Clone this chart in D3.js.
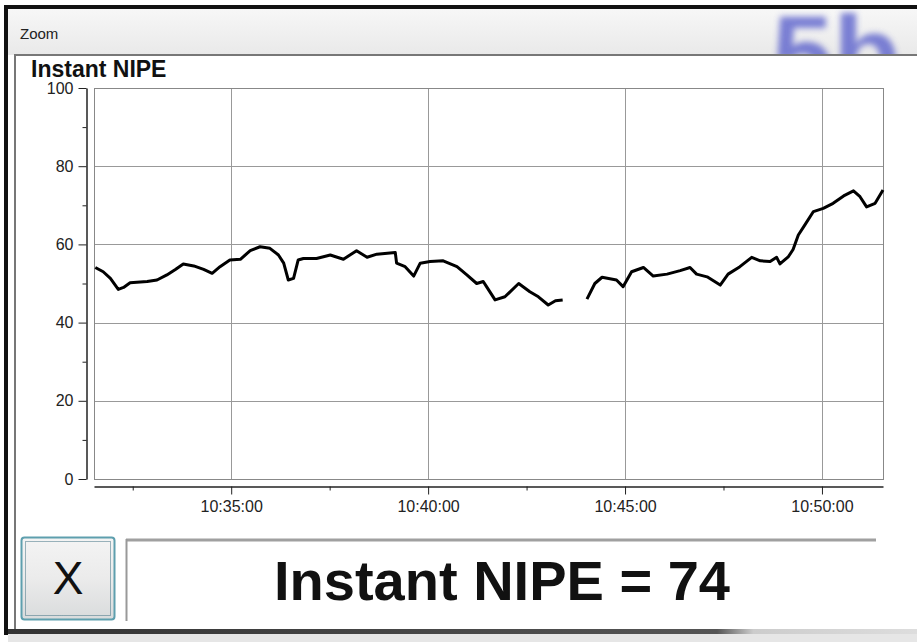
<!DOCTYPE html>
<html>
<head>
<meta charset="utf-8">
<script src="https://cdnjs.cloudflare.com/ajax/libs/d3/7.8.5/d3.min.js"></script>
<style>
  body { margin: 0; background: #fff; }
  svg { display: block; font-family: "Liberation Sans", Arial, sans-serif; }
</style>
</head>
<body>
<svg class="zoom-chart" width="917" height="642"></svg>
<script>
// readings (null = gap in the signal)
var times = ["10:31:33", "10:31:45", "10:31:56", "10:32:08", "10:32:16", "10:32:26", "10:32:52", "10:33:07",
    "10:33:22", "10:33:35", "10:33:47", "10:34:03", "10:34:18", "10:34:31", "10:34:43", "10:34:58",
    "10:35:14", "10:35:29", "10:35:44", "10:35:59", "10:36:12", "10:36:20", "10:36:27", "10:36:35",
    "10:36:42", "10:36:50", "10:37:10", "10:37:31", "10:37:51", "10:38:11", "10:38:27", "10:38:42",
    "10:39:10", "10:39:12", "10:39:25", "10:39:38", "10:39:48", "10:40:03", "10:40:23", "10:40:44",
    "10:40:59", "10:41:14", "10:41:24", "10:41:29", "10:41:42", "10:41:57", "10:42:18", "10:42:35",
    "10:42:48", "10:43:03", "10:43:14", "10:43:25", "10:43:44", "10:44:02", "10:44:14", "10:44:25",
    "10:44:47", "10:44:57", "10:45:10", "10:45:28", "10:45:43", "10:46:04", "10:46:24", "10:46:39",
    "10:46:49", "10:47:05", "10:47:25", "10:47:37", "10:47:55", "10:48:13", "10:48:26", "10:48:41",
    "10:48:51", "10:48:56", "10:49:09", "10:49:16", "10:49:24", "10:49:34", "10:49:47", "10:50:02",
    "10:50:17", "10:50:33", "10:50:48", "10:50:58", "10:51:08", "10:51:21", "10:51:33"];
var values = [54.1, 53.0, 51.3, 48.5, 49.0, 50.2, 50.5, 50.9,
    52.2, 53.6, 55.0, 54.5, 53.6, 52.6, 54.3, 56.0,
    56.2, 58.4, 59.4, 59.0, 57.3, 55.2, 50.9, 51.3,
    56.0, 56.4, 56.4, 57.3, 56.2, 58.4, 56.7, 57.5,
    57.9, 55.2, 54.3, 51.9, 55.2, 55.6, 55.8, 54.3,
    52.2, 50.0, 50.5, 49.2, 45.8, 46.6, 50.0, 47.9,
    46.6, 44.5, 45.6, 45.8, null, 46.0, 50.0, 51.6,
    50.9, 49.2, 53.0, 54.1, 51.9, 52.4, 53.3, 54.1,
    52.4, 51.7, 49.6, 52.4, 54.3, 56.7, 55.8, 55.6,
    56.7, 55.0, 56.9, 58.7, 62.4, 65.0, 68.4, 69.2,
    70.5, 72.4, 73.7, 72.2, 69.6, 70.5, 73.9];

var yTicks = [0, 20, 40, 60, 80, 100];
var yMinorTicks = [10, 30, 50, 70, 90];
var xTicks = ["10:35:00", "10:40:00", "10:45:00", "10:50:00"];
var xMinorTicks = ["10:32:30", "10:37:30", "10:42:30", "10:47:30"];
var timeWindow = ["10:31:31", "10:51:33"];
var currentValue = 74;

var svg = d3.select(".zoom-chart");
var parseTime = d3.timeParse("%H:%M:%S");

var data = times.map(function(t, i) { return { t: parseTime(t), v: values[i] }; });

var defs = svg.append("defs");

var barGrad = defs.append("linearGradient").attr("id", "bar-grad")
    .attr("x1", 0).attr("y1", 0).attr("x2", 0).attr("y2", 1);
barGrad.append("stop").attr("offset", "0%").attr("stop-color", "#f7f7f7");
barGrad.append("stop").attr("offset", "100%").attr("stop-color", "#e9e9e9");

var btnGrad = defs.append("linearGradient").attr("id", "btn-grad")
    .attr("x1", 0).attr("y1", 0).attr("x2", 0).attr("y2", 1);
btnGrad.append("stop").attr("offset", "0%").attr("stop-color", "#f4f4f4");
btnGrad.append("stop").attr("offset", "50%").attr("stop-color", "#ebebeb");
btnGrad.append("stop").attr("offset", "100%").attr("stop-color", "#d9dbdc");

var shadowGrad = defs.append("linearGradient").attr("id", "shadow-grad")
    .attr("x1", 0).attr("y1", 0).attr("x2", 1).attr("y2", 0);
shadowGrad.append("stop").attr("offset", "0%").attr("stop-color", "#333");
shadowGrad.append("stop").attr("offset", "78%").attr("stop-color", "#555");
shadowGrad.append("stop").attr("offset", "82%").attr("stop-color", "#ccc");
shadowGrad.append("stop").attr("offset", "100%").attr("stop-color", "#ddd");

defs.append("filter").attr("id", "blur")
    .append("feGaussianBlur").attr("stdDeviation", 3);

defs.append("clipPath").attr("id", "bar-clip")
    .append("rect").attr("x", 8).attr("y", 9).attr("width", 909).attr("height", 45);

// window frame
svg.append("rect").attr("x", 0).attr("y", 0).attr("width", 917).attr("height", 642).attr("fill", "#fff");
svg.append("rect").attr("x", 8).attr("y", 9).attr("width", 909).attr("height", 46).attr("fill", "url(#bar-grad)");

// blurred logo behind the title bar
svg.append("g").attr("clip-path", "url(#bar-clip)")
    .append("text")
    .attr("x", 772).attr("y", 92)
    .attr("font-size", 110).attr("font-weight", "bold")
    .attr("fill", "#5c62cc").attr("opacity", 0.8)
    .attr("filter", "url(#blur)")
    .text("5b");

svg.append("rect").attr("x", 4).attr("y", 5).attr("width", 913).attr("height", 4).attr("fill", "#111");
svg.append("rect").attr("x", 4).attr("y", 5).attr("width", 4).attr("height", 630).attr("fill", "#111");

svg.append("text")
    .attr("x", 20).attr("y", 39)
    .attr("font-size", 15).attr("fill", "#222")
    .text("Zoom");

// chart panel
svg.append("line").attr("x1", 14).attr("x2", 917).attr("y1", 55).attr("y2", 55)
    .attr("stroke", "#777").attr("stroke-width", 2);
svg.append("line").attr("x1", 15).attr("x2", 15).attr("y1", 55).attr("y2", 630)
    .attr("stroke", "#777").attr("stroke-width", 2);
svg.append("rect").attr("x", 8).attr("y", 629).attr("width", 909).attr("height", 5).attr("fill", "url(#shadow-grad)");
svg.append("rect").attr("x", 8).attr("y", 634).attr("width", 909).attr("height", 8).attr("fill", "#e6e6e6");

svg.append("text")
    .attr("x", 31).attr("y", 77)
    .attr("font-size", 23).attr("font-weight", "bold").attr("fill", "#111")
    .text("Instant NIPE");

var plotLeft = 94, plotRight = 883, plotTop = 88, plotBottom = 479;

var x = d3.scaleTime()
    .domain(timeWindow.map(parseTime))
    .range([plotLeft, plotRight]);

var y = d3.scaleLinear()
    .domain([0, 100])
    .range([plotBottom, plotTop]);

// grid
var grid = svg.append("g").attr("class", "grid").attr("stroke", "#999").attr("stroke-width", 1);
grid.selectAll(".hgrid")
    .data(yTicks.slice(1, -1))
    .enter().append("line")
    .attr("x1", plotLeft).attr("x2", plotRight)
    .attr("y1", function(d) { return Math.round(y(d)) + 0.5; })
    .attr("y2", function(d) { return Math.round(y(d)) + 0.5; });
grid.selectAll(".vgrid")
    .data(xTicks.map(parseTime))
    .enter().append("line")
    .attr("y1", plotTop).attr("y2", plotBottom)
    .attr("x1", function(d) { return Math.round(x(d)) + 0.5; })
    .attr("x2", function(d) { return Math.round(x(d)) + 0.5; });

svg.append("rect")
    .attr("x", plotLeft + 0.5).attr("y", plotTop + 0.5)
    .attr("width", plotRight - plotLeft).attr("height", plotBottom - plotTop)
    .attr("fill", "none").attr("stroke", "#888");

// axes
var yAxis = svg.append("g")
    .attr("transform", "translate(86.5,0)")
    .call(d3.axisLeft(y).tickValues(yTicks).tickSize(8).tickSizeOuter(0).tickPadding(5));
svg.append("g")
    .attr("transform", "translate(86.5,0)")
    .call(d3.axisLeft(y).tickValues(yMinorTicks).tickSize(4).tickSizeOuter(0).tickFormat(""))
    .select(".domain").remove();

var xAxis = svg.append("g")
    .attr("transform", "translate(0,486.5)")
    .call(d3.axisBottom(x).tickValues(xTicks.map(parseTime)).tickSize(8).tickSizeOuter(0)
        .tickPadding(6).tickFormat(d3.timeFormat("%H:%M:%S")));
svg.append("g")
    .attr("transform", "translate(0,486.5)")
    .call(d3.axisBottom(x).tickValues(xMinorTicks.map(parseTime)).tickSize(4).tickSizeOuter(0).tickFormat(""))
    .select(".domain").remove();

svg.selectAll(".tick line").attr("stroke", "#222");
svg.selectAll(".domain").attr("stroke", "#222").attr("stroke-width", 1.5);
yAxis.selectAll("text").attr("font-size", 16).attr("fill", "#222").attr("font-family", "Liberation Sans, Arial");
xAxis.selectAll("text").attr("font-size", 16).attr("fill", "#222").attr("font-family", "Liberation Sans, Arial");

// trace
var line = d3.line()
    .defined(function(d) { return d.v !== null; })
    .x(function(d) { return x(d.t); })
    .y(function(d) { return y(d.v); });

svg.append("path")
    .datum(data)
    .attr("d", line)
    .attr("fill", "none")
    .attr("stroke", "#000")
    .attr("stroke-width", 3)
    .attr("stroke-linejoin", "round");

// close button
svg.append("rect")
    .attr("x", 21.5).attr("y", 537.5).attr("width", 93).attr("height", 82).attr("rx", 3)
    .attr("fill", "url(#btn-grad)").attr("stroke", "#5e9fae").attr("stroke-width", 2);
svg.append("rect")
    .attr("x", 25.5).attr("y", 541.5).attr("width", 85).attr("height", 74)
    .attr("fill", "none").attr("stroke", "#3c6f80").attr("stroke-dasharray", "1,1");
svg.append("text")
    .attr("x", 68).attr("y", 594)
    .attr("text-anchor", "middle")
    .attr("font-size", 46).attr("fill", "#111")
    .text("X");

// readout box
svg.append("line").attr("x1", 126).attr("x2", 876).attr("y1", 540).attr("y2", 540)
    .attr("stroke", "#a0a0a0").attr("stroke-width", 3);
svg.append("line").attr("x1", 126.5).attr("x2", 126.5).attr("y1", 539).attr("y2", 621)
    .attr("stroke", "#999").attr("stroke-width", 2);
svg.append("text")
    .attr("x", 502).attr("y", 600)
    .attr("text-anchor", "middle")
    .attr("font-size", 56).attr("font-weight", "bold").attr("fill", "#111")
    .text("Instant NIPE = " + currentValue);
</script>
</body>
</html>
